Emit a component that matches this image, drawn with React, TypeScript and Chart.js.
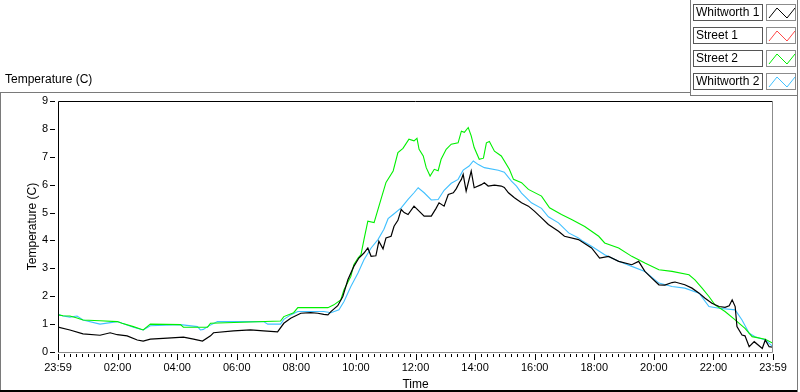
import React, { useEffect, useRef } from 'react';
import { Chart, registerables } from 'chart.js';

Chart.register(...registerables);

const FONT = '"Liberation Sans", Arial, sans-serif';

const timeLabels = ['23:59', '02:00', '04:00', '06:00', '08:00', '10:00', '12:00', '14:00', '16:00', '18:00', '20:00', '22:00', '23:59'];
const seriesNames = ['Whitworth 1', 'Street 1', 'Street 2', 'Whitworth 2'];
const seriesColors = ['#000000', '#ff4848', '#00f000', '#40c0ff'];

// [hours since 23:59, temperature °C]
const whitworth1: [number, number][] = [
  [0, 0.89], [0.4, 0.79], [0.84, 0.65], [1.41, 0.6], [1.75, 0.69], [1.99, 0.62], [2.32, 0.58], [2.66, 0.43], [2.86, 0.39],
  [3.1, 0.46], [3.67, 0.5], [4.21, 0.53], [4.55, 0.46], [4.85, 0.39], [5.12, 0.58], [5.22, 0.69], [5.89, 0.76], [6.46, 0.79],
  [6.9, 0.76], [7.37, 0.72], [7.58, 1.03], [7.81, 1.21], [8.15, 1.39], [8.48, 1.41], [8.72, 1.39], [8.92, 1.35], [9.06, 1.33],
  [9.16, 1.45], [9.39, 1.66], [9.56, 1.99], [9.73, 2.59], [9.93, 3.07], [10.1, 3.37], [10.27, 3.55], [10.4, 3.73], [10.51, 3.43],
  [10.67, 3.45], [10.77, 3.97], [10.91, 3.7], [11.01, 4.09], [11.18, 4.15], [11.28, 4.51], [11.41, 4.72], [11.52, 5.11],
  [11.62, 5.0], [11.75, 4.93], [11.95, 5.23], [12.12, 5.05], [12.29, 4.87], [12.53, 4.87], [12.69, 5.15], [12.79, 5.35],
  [12.96, 5.23], [13.1, 5.65], [13.27, 5.71], [13.37, 5.86], [13.47, 6.07], [13.54, 6.19], [13.6, 6.37], [13.7, 5.77],
  [13.87, 6.49], [13.97, 5.89], [14.21, 6.0], [14.31, 6.07], [14.44, 5.95], [14.65, 5.98], [14.88, 5.95], [14.98, 5.9],
  [15.12, 5.71], [15.32, 5.53], [15.56, 5.35], [15.79, 5.23], [15.99, 5.05], [16.23, 4.81], [16.46, 4.57], [16.8, 4.33],
  [17.0, 4.15], [17.47, 4.03], [17.91, 3.73], [18.18, 3.37], [18.48, 3.43], [18.82, 3.25], [19.26, 3.13], [19.49, 3.25],
  [19.7, 2.89], [19.93, 2.65], [20.17, 2.41], [20.37, 2.4], [20.61, 2.49], [20.71, 2.51], [21.04, 2.41], [21.28, 2.29],
  [21.52, 2.11], [21.72, 1.93], [21.95, 1.75], [22.19, 1.63], [22.39, 1.6], [22.53, 1.66], [22.63, 1.87], [22.73, 1.63],
  [22.79, 0.91], [22.96, 0.61], [23.06, 0.58], [23.2, 0.19], [23.37, 0.37], [23.64, 0.13], [23.74, 0.43], [23.87, 0.19], [24, 0.17],
];

const street1: [number, number][] = [];

const street2: [number, number][] = [
  [0, 1.33], [0.17, 1.3], [0.4, 1.29], [0.64, 1.22], [0.84, 1.15], [1.41, 1.12], [1.99, 1.09], [2.15, 1.03], [2.53, 0.91],
  [2.86, 0.79], [3.1, 1.0], [4.11, 0.98], [4.21, 0.89], [5.02, 0.89], [5.12, 1.03], [7.47, 1.11], [7.58, 1.27], [7.91, 1.41],
  [8.05, 1.59], [9.06, 1.59], [9.26, 1.69], [9.49, 1.87], [9.6, 2.23], [9.83, 2.71], [9.93, 3.13], [10.07, 3.37], [10.17, 3.49],
  [10.27, 4.03], [10.4, 4.69], [10.61, 4.64], [10.84, 5.47], [11.01, 6.08], [11.25, 6.49], [11.41, 7.15], [11.58, 7.3],
  [11.78, 7.63], [11.95, 7.57], [12.05, 7.66], [12.12, 7.27], [12.26, 7.03], [12.36, 6.61], [12.49, 6.31], [12.63, 6.55],
  [12.76, 6.5], [12.86, 6.91], [13.03, 7.27], [13.2, 7.45], [13.43, 7.5], [13.54, 7.92], [13.64, 7.88], [13.77, 8.05],
  [13.87, 7.75], [13.97, 7.33], [14.14, 6.91], [14.28, 6.95], [14.38, 7.5], [14.48, 7.55], [14.65, 7.2], [14.88, 7.03],
  [15.15, 6.55], [15.29, 6.19], [15.56, 6.07], [15.79, 5.83], [16.23, 5.59], [16.5, 5.17], [16.9, 4.93], [17.24, 4.75],
  [17.68, 4.5], [18.15, 4.15], [18.35, 3.91], [18.82, 3.73], [19.26, 3.43], [19.7, 3.19], [20.17, 2.95], [20.61, 2.89],
  [21.18, 2.77], [21.38, 2.59], [21.62, 2.29], [21.85, 1.99], [22.05, 1.69], [22.39, 1.45], [22.73, 1.15], [23.06, 0.85],
  [23.3, 0.55], [23.74, 0.46], [24, 0.31],
];

const whitworth2: [number, number][] = [
  [0, 1.35], [0.17, 1.29], [0.4, 1.25], [0.64, 1.29], [0.84, 1.15], [1.41, 1.0], [1.99, 1.09], [2.53, 0.89], [2.86, 0.79],
  [3.1, 0.94], [4.11, 0.98], [4.68, 0.91], [4.78, 0.79], [4.88, 0.81], [5.02, 0.91], [5.35, 1.09], [6.9, 1.09], [7.04, 1.0],
  [7.47, 1.0], [7.58, 1.17], [7.81, 1.33], [8.05, 1.45], [8.92, 1.45], [9.16, 1.41], [9.43, 1.51], [9.6, 1.81], [9.83, 2.35],
  [10.07, 2.83], [10.27, 3.31], [10.51, 3.73], [10.74, 4.03], [10.94, 4.4], [11.08, 4.78], [11.25, 4.93], [11.52, 5.17],
  [11.75, 5.47], [11.95, 5.71], [12.09, 5.89], [12.29, 5.71], [12.53, 5.45], [12.76, 5.47], [12.96, 5.8], [13.2, 6.05],
  [13.43, 6.19], [13.6, 6.52], [13.8, 6.67], [13.94, 6.85], [14.11, 6.72], [14.31, 6.61], [14.78, 6.52], [14.98, 6.45],
  [15.22, 6.13], [15.39, 5.95], [15.56, 5.7], [15.89, 5.35], [16.23, 5.15], [16.46, 4.85], [16.8, 4.63], [17.14, 4.27],
  [17.47, 4.09], [17.58, 4.0], [17.91, 3.79], [18.35, 3.49], [18.82, 3.25], [19.26, 3.07], [19.7, 2.89], [20.17, 2.47],
  [20.61, 2.35], [21.04, 2.29], [21.52, 2.11], [21.85, 1.63], [22.19, 1.57], [22.73, 1.51], [22.96, 1.15], [23.2, 0.67],
  [23.4, 0.55], [23.74, 0.43], [24, 0.19],
];

const seriesData = [whitworth1, street1, street2, whitworth2];

const X_MIN = 0;
const X_MAX = 24;
const X_STEP = 2;
const X_MINOR_STEP = 0.2;
const Y_MIN = 0;
const Y_MAX = 9;

const framePlugin = {
  id: 'lvFrame',
  afterDraw(chart: any) {
    const { ctx, chartArea: a, scales } = chart;
    const xs = scales.x;
    const ys = scales.y;
    ctx.save();
    ctx.lineWidth = 1;
    ctx.strokeStyle = '#000';
    ctx.beginPath();
    const nMinor = Math.round((X_MAX - X_MIN) / X_MINOR_STEP);
    const perMajor = Math.round(X_STEP / X_MINOR_STEP);
    for (let i = 0; i <= nMinor; i++) {
      const v = X_MIN + i * X_MINOR_STEP;
      const px = Math.round(xs.getPixelForValue(v)) + 0.5;
      const len = i % perMajor === 0 ? 6 : 3;
      ctx.moveTo(px, a.bottom + 2);
      ctx.lineTo(px, a.bottom + 2 + len);
    }
    for (let v = Y_MIN; v <= Y_MAX; v++) {
      const py = Math.round(ys.getPixelForValue(v)) + 0.5;
      ctx.moveTo(a.left - 8, py);
      ctx.lineTo(a.left - 3, py);
    }
    ctx.stroke();
    const l = Math.round(a.left) + 0.5;
    const t = Math.round(a.top) + 0.5;
    const r = Math.round(a.right) - 0.5;
    const b = Math.round(a.bottom) + 0.5;
    ctx.strokeStyle = '#000';
    ctx.beginPath();
    ctx.moveTo(l, b);
    ctx.lineTo(l, t);
    ctx.lineTo(r, t);
    ctx.stroke();
    ctx.strokeStyle = '#8c8c8c';
    ctx.beginPath();
    ctx.moveTo(r, t);
    ctx.lineTo(r, b);
    ctx.lineTo(l, b);
    ctx.stroke();
    ctx.restore();
  },
};

function Swatch({ color }: { color: string }) {
  return (
    <svg width={28} height={15} style={{ display: 'block' }}>
      <polyline points="2,13 10,3 20,13 28,3" fill="none" stroke={color} strokeWidth={1} />
    </svg>
  );
}

export default function App() {
  const canvasRef = useRef<HTMLCanvasElement | null>(null);

  useEffect(() => {
    const canvas = canvasRef.current;
    if (!canvas) return;
    const datasets = seriesNames.map((name, i) => ({
      label: name,
      data: seriesData[i].map(([x, y]) => ({ x, y })),
      borderColor: seriesColors[i],
      backgroundColor: seriesColors[i],
      borderWidth: i === 0 ? 1.2 : 1.1,
      pointRadius: 0,
      tension: 0,
      fill: false,
    }));
    const chart = new Chart(canvas, {
      type: 'line',
      data: { datasets },
      plugins: [framePlugin],
      options: {
        responsive: false,
        animation: false,
        layout: { padding: { left: 0, top: 101, right: 27, bottom: 0 } },
        plugins: { legend: { display: false }, tooltip: { enabled: false }, title: { display: false } },
        scales: {
          x: {
            type: 'linear',
            min: X_MIN,
            max: X_MAX,
            afterFit: (s: any) => { s.height = 40; },
            border: { display: false },
            grid: { display: false, drawTicks: false },
            ticks: {
              stepSize: X_STEP,
              autoSkip: false,
              maxRotation: 0,
              padding: 9,
              color: '#000',
              font: { family: FONT, size: 11 },
              callback: (_v: any, i: number) => timeLabels[i],
            },
            title: { display: true, text: 'Time', color: '#000', font: { family: FONT, size: 12 }, padding: { top: 0, bottom: 0 } },
          },
          y: {
            min: Y_MIN,
            max: Y_MAX,
            afterFit: (s: any) => { s.width = 58; },
            border: { display: false },
            grid: { display: false, drawTicks: false },
            ticks: { stepSize: 1, padding: 10, color: '#000', font: { family: FONT, size: 11 } },
            title: { display: true, text: 'Temperature (C)', color: '#000', font: { family: FONT, size: 12 }, padding: { top: 25, bottom: 0 } },
          },
        },
      } as any,
    });
    return () => chart.destroy();
  }, []);

  const grey = '#7a7a7a';
  return (
    <div style={{ position: 'fixed', left: 0, top: 0, width: 800, height: 392, background: '#fff', overflow: 'hidden', fontFamily: FONT }}>
      <canvas ref={canvasRef} width={800} height={392} style={{ position: 'absolute', left: 0, top: 0, width: 800, height: 392 }} />
      <div style={{ position: 'absolute', left: 0, top: 92, width: 690, height: 1, background: grey }} />
      <div style={{ position: 'absolute', left: 0, top: 92, width: 1, height: 300, background: grey }} />
      <div style={{ position: 'absolute', left: 0, top: 390, width: 798, height: 2, background: '#000' }} />
      <div style={{ position: 'absolute', left: 797, top: 0, width: 1, height: 392, background: grey }} />
      <div style={{ position: 'absolute', left: 690, top: 0, width: 1, height: 95, background: grey }} />
      <div style={{ position: 'absolute', left: 690, top: 95, width: 108, height: 1, background: grey }} />
      <div style={{ position: 'absolute', left: 5, top: 72, fontSize: 12, lineHeight: '15px', color: '#000', whiteSpace: 'nowrap' }}>Temperature (C)</div>
      {seriesNames.map((name, i) => (
        <React.Fragment key={name}>
          <div style={{ position: 'absolute', left: 693, top: 4 + 23 * i, width: 68, height: 15, border: '1px solid #555', fontSize: 12, lineHeight: '15px', boxSizing: 'content-box', whiteSpace: 'nowrap', overflow: 'hidden', color: '#000' }}>
            <span style={{ marginLeft: 2 }}>{name}</span>
          </div>
          <div style={{ position: 'absolute', left: 766, top: 4 + 23 * i, width: 28, height: 15, border: '1px solid #8c8c8c' }}>
            <Swatch color={seriesColors[i]} />
          </div>
        </React.Fragment>
      ))}
    </div>
  );
}
